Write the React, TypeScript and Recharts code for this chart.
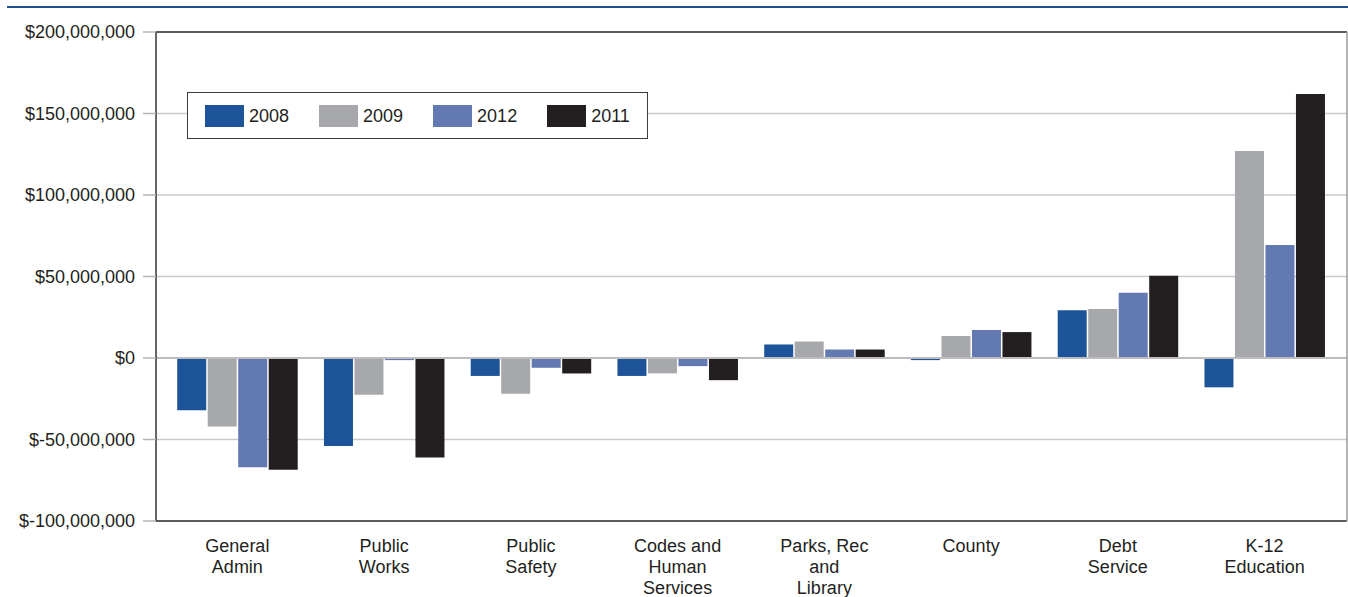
import React from 'react';
import {
  BarChart,
  Bar,
  XAxis,
  YAxis,
  CartesianGrid,
  Legend,
  ReferenceLine,
} from 'recharts';

// Budget categories (line breaks mark how the axis labels wrap)
const categories = [
  'General\nAdmin',
  'Public\nWorks',
  'Public\nSafety',
  'Codes and\nHuman\nServices',
  'Parks, Rec\nand\nLibrary',
  'County',
  'Debt\nService',
  'K-12\nEducation',
];

// Change in spending per category, in dollars
const values2008 = [-32000000, -54000000, -11000000, -11000000, 8300000, -1300000, 29300000, -18000000];
const values2009 = [-42000000, -22500000, -22000000, -9400000, 10100000, 13500000, 30000000, 127000000];
const values2012 = [-67000000, -1300000, -6000000, -5000000, 5200000, 17200000, 40000000, 69300000];
const values2011 = [-68500000, -61000000, -9500000, -13600000, 5200000, 15900000, 50500000, 162000000];

const yTicks = [-100000000, -50000000, 0, 50000000, 100000000, 150000000, 200000000];
const boundaryTicks = [1, 2, 3, 4, 5, 6, 7];

const series = [
  { key: 'y2008', name: '2008', color: '#1d5399' },
  { key: 'y2009', name: '2009', color: '#a7a8ab' },
  { key: 'y2012', name: '2012', color: '#6379b2' },
  { key: 'y2011', name: '2011', color: '#231f20' },
];

const data = categories.map((category, i) => ({
  category,
  y2008: values2008[i],
  y2009: values2009[i],
  y2012: values2012[i],
  y2011: values2011[i],
}));

const FONT = '"Liberation Sans", Arial, Helvetica, sans-serif';
const TEXT = '#231f20';

const formatDollars = (v: number) =>
  v < 0 ? `$-${Math.abs(v).toLocaleString('en-US')}` : `$${v.toLocaleString('en-US')}`;

const ValueTick = (props: any) => {
  const { x, y, payload } = props;
  return (
    <text x={x} y={y} dy="0.36em" textAnchor="end" fill={TEXT} fontSize={18} fontFamily={FONT}>
      {formatDollars(Number(payload.value))}
    </text>
  );
};

const CategoryTick = (props: any) => {
  const { x, y, payload } = props;
  const lines = String(payload.value).split('\n');
  return (
    <text x={x} y={y} textAnchor="middle" fill={TEXT} fontSize={18} fontFamily={FONT}>
      {lines.map((line, i) => (
        <tspan key={i} x={x} dy={i === 0 ? 30 : 21}>
          {line}
        </tspan>
      ))}
    </text>
  );
};

const renderLegend = (props: any) => {
  const payload = props.payload || [];
  // keep the legend in the same order as the bars
  const items = series
    .map((s) => payload.find((p: any) => p.value === s.name))
    .filter(Boolean);
  return (
    <div
      style={{
        width: 461,
        height: 47,
        boxSizing: 'border-box',
        border: '1.5px solid #3c3c3c',
        background: '#fff',
        display: 'flex',
        alignItems: 'center',
        paddingLeft: 17,
        gap: 30,
        fontFamily: FONT,
        fontSize: 18,
        color: TEXT,
      }}
    >
      {items.map((entry: any) => (
        <div key={entry.value} style={{ display: 'flex', alignItems: 'center' }}>
          <span style={{ display: 'inline-block', width: 39, height: 22, background: entry.color }} />
          <span style={{ marginLeft: 5, lineHeight: '22px' }}>{entry.value}</span>
        </div>
      ))}
    </div>
  );
};

export default function App() {
  return (
    <div style={{ position: 'absolute', left: 0, top: 0, width: 1348, height: 597, background: '#fff' }}>
      <div style={{ position: 'absolute', left: 7, top: 6, width: 1341, height: 2, background: '#1f4f91' }} />
      <BarChart
        width={1348}
        height={597}
        data={data}
        margin={{ top: 32, right: 0, bottom: 0, left: 0 }}
        barCategoryGap="9%"
        barGap={1.5}
      >
        <CartesianGrid vertical={false} stroke="#c9c9cb" strokeWidth={1.5} xAxisId="cat" yAxisId="left" />
        <XAxis
          xAxisId="bnd"
          type="number"
          domain={[0, 8]}
          ticks={boundaryTicks}
          padding={{ left: 8, right: 9 }}
          height={1}
          axisLine={false}
          tick={false}
          tickSize={8}
          tickLine={{ stroke: '#b5b5b5', strokeWidth: 1.2 }}
        />
        <XAxis
          xAxisId="cat"
          dataKey="category"
          padding={{ left: 8, right: 9 }}
          height={75}
          axisLine={false}
          tickLine={false}
          tickSize={0}
          tickMargin={0}
          interval={0}
          tick={<CategoryTick />}
        />
        <YAxis
          yAxisId="left"
          width={156}
          domain={[-100000000, 200000000]}
          ticks={yTicks}
          tickSize={13}
          tickMargin={8}
          tickLine={{ stroke: '#b5b5b5', strokeWidth: 1.5 }}
          axisLine={{ stroke: '#333', strokeWidth: 1.5 }}
          tick={<ValueTick />}
        />
        <YAxis
          yAxisId="right"
          orientation="right"
          width={1}
          domain={[-100000000, 200000000]}
          tick={false}
          tickLine={false}
          axisLine={{ stroke: '#9a9a9a', strokeWidth: 1.5 }}
        />
        <Legend
          layout="horizontal"
          verticalAlign="middle"
          align="center"
          content={renderLegend}
          wrapperStyle={{ left: 187, top: 92, width: 461, height: 47 }}
        />
        {series.map((s) => (
          <Bar
            key={s.key}
            dataKey={s.key}
            name={s.name}
            fill={s.color}
            xAxisId="cat"
            yAxisId="left"
            isAnimationActive={false}
          />
        ))}
        <ReferenceLine y={0} xAxisId="cat" yAxisId="left" stroke="#bdbdbf" strokeWidth={2} />
        <ReferenceLine y={200000000} xAxisId="cat" yAxisId="left" stroke="#333" strokeWidth={1.5} />
        <ReferenceLine y={-100000000} xAxisId="cat" yAxisId="left" stroke="#333" strokeWidth={1.5} />
      </BarChart>
    </div>
  );
}
